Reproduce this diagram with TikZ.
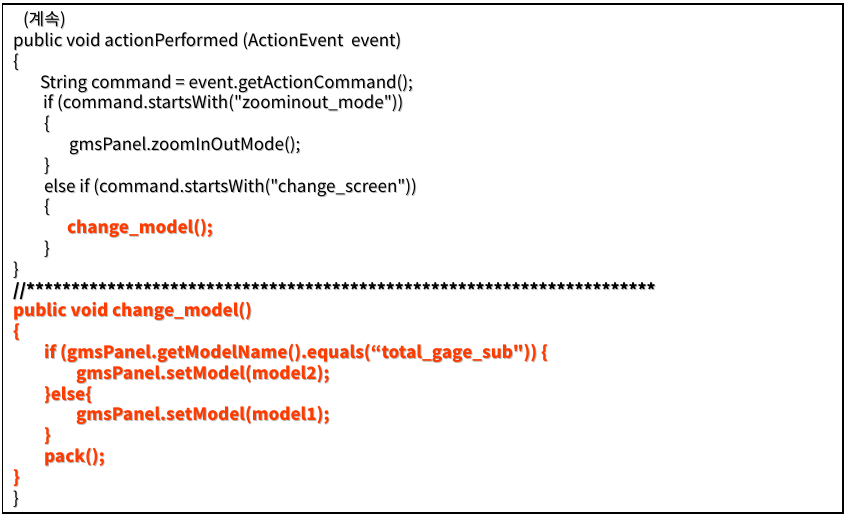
\documentclass[tikz,border=0pt]{standalone}
\usepackage{fontspec}
\setmainfont{Noto Sans CJK KR}[Ligatures=TeXOff]
\definecolor{codered}{RGB}{255,60,0}
\definecolor{shadowgray}{RGB}{190,190,190}
\tikzset{
  codetext/.style={anchor=base west, inner sep=0pt, outer sep=0pt, font=\fontsize{17}{19}\selectfont},
  blacktext/.style={codetext, text=black},
  redtext/.style={codetext, text=codered, font=\fontsize{17}{19}\selectfont\bfseries},
  startext/.style={codetext, text=black, font=\fontsize{17}{19}\selectfont\bfseries},
  shadowtext/.style={text=shadowgray},
  frame/.style={draw=black, line width=1.5pt, fill=white}
}
\newcommand\codeln[5]{%
  \node[#4, shadowtext] at (#2+0.9,#3+0.9) {#5};
  \node[#4] (#1) at (#2,#3) {#5};
}
\begin{document}
\begin{tikzpicture}[x=1pt,y=-1pt]
\useasboundingbox (0,0) rectangle (850,520);
\draw[frame] (2.5,4) rectangle (843,513);
\codeln{l1}{23}{25.7}{blacktext}{(계속)}
\codeln{l2}{13}{46.5}{blacktext}{public void actionPerformed (ActionEvent\ \ event)}
\codeln{l3}{13}{67.3}{blacktext}{\{}
\codeln{l4}{40}{88.1}{blacktext}{String command = event.getActionCommand();}
\codeln{l5}{43}{108.9}{blacktext}{if (command.startsWith("zoominout\_mode"))}
\codeln{l6}{44}{129.7}{blacktext}{\{}
\codeln{l7}{69}{150.5}{blacktext}{gmsPanel.zoomInOutMode();}
\codeln{l8}{44}{171.3}{blacktext}{\}}
\codeln{l9}{44}{192.1}{blacktext}{else if (command.startsWith("change\_screen"))}
\codeln{l10}{44}{212.9}{blacktext}{\{}
\codeln{l11}{67}{233.7}{redtext}{change\_model();}
\codeln{l12}{44}{254.5}{blacktext}{\}}
\codeln{l13}{13}{275.3}{blacktext}{\}}
\codeln{l14}{13}{296.1}{startext}{//**********************************************************************}
\codeln{l15}{13}{316.9}{redtext}{public void change\_model()}
\codeln{l16}{13}{337.7}{redtext}{\{}
\codeln{l17}{44}{358.5}{redtext}{if (gmsPanel.getModelName().equals(“total\_gage\_sub")) \{}
\codeln{l18}{76}{379.3}{redtext}{gmsPanel.setModel(model2);}
\codeln{l19}{44}{400.1}{redtext}{\}else\{}
\codeln{l20}{76}{420.9}{redtext}{gmsPanel.setModel(model1);}
\codeln{l21}{44}{441.7}{redtext}{\}}
\codeln{l22}{44}{462.5}{redtext}{pack();}
\codeln{l23}{13}{483.3}{redtext}{\}}
\codeln{l24}{13}{504.1}{blacktext}{\}}
\end{tikzpicture}
\end{document}
